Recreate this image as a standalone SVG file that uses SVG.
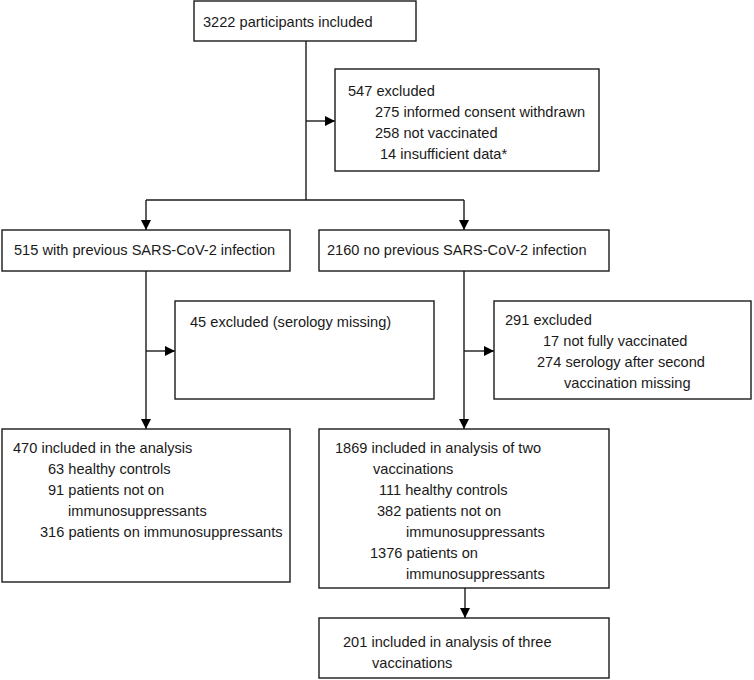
<svg xmlns="http://www.w3.org/2000/svg" width="754" height="680" viewBox="0 0 754 680">
<defs>
<marker id="ah" viewBox="0 0 10 10" refX="10" refY="5" markerWidth="10" markerHeight="10" markerUnits="userSpaceOnUse" orient="auto">
<path d="M0,0 L10,5 L0,10 Z" fill="#000"/>
</marker>
<style>
.box{fill:#fff;stroke:#1a1a1a;stroke-width:1.4}
.ln{fill:none;stroke:#1a1a1a;stroke-width:1.4}
text{font-family:"Liberation Sans","Open Sans",sans-serif;font-size:14.6px;fill:#1a1a1a}
</style>
</defs>
<rect width="754" height="680" fill="#fff"/>
<g id="connectors">
<path class="ln" d="M306,41 V200"/>
<path class="ln" d="M306,121 H335" marker-end="url(#ah)"/>
<path class="ln" d="M146,200 H464"/>
<path class="ln" d="M146,200 V230" marker-end="url(#ah)"/>
<path class="ln" d="M464,200 V230" marker-end="url(#ah)"/>
<path class="ln" d="M146,271 V429" marker-end="url(#ah)"/>
<path class="ln" d="M146,351 H175" marker-end="url(#ah)"/>
<path class="ln" d="M464,271 V429" marker-end="url(#ah)"/>
<path class="ln" d="M464,351 H494" marker-end="url(#ah)"/>
<path class="ln" d="M465,588 V618" marker-end="url(#ah)"/>
</g>
<g id="n1">
<rect class="box" x="194" y="1" width="222" height="40"/>
<text x="203" y="27">3222 participants included</text>
</g>
<g id="n2">
<rect class="box" x="335" y="69" width="264" height="102"/>
<text x="348" y="96">547 excluded</text>
<text x="375" y="117">275 informed consent withdrawn</text>
<text x="375" y="138">258 not vaccinated</text>
<text x="380" y="159">14 insufficient data*</text>
</g>
<g id="n3">
<rect class="box" x="2" y="230" width="288" height="41"/>
<text x="14" y="255">515 with previous SARS-CoV-2 infection</text>
</g>
<g id="n4">
<rect class="box" x="319" y="230" width="290" height="41"/>
<text x="327" y="255">2160 no previous SARS-CoV-2 infection</text>
</g>
<g id="n5">
<rect class="box" x="175" y="301" width="259" height="98"/>
<text x="190" y="327">45 excluded (serology missing)</text>
</g>
<g id="n6">
<rect class="box" x="494" y="301" width="257" height="98"/>
<text x="505" y="325">291 excluded</text>
<text x="543" y="346">17 not fully vaccinated</text>
<text x="537" y="367">274 serology after second</text>
<text x="564" y="388">vaccination missing</text>
</g>
<g id="n7">
<rect class="box" x="2" y="429" width="288" height="153"/>
<text x="13" y="453">470 included in the analysis</text>
<text x="48" y="474">63 healthy controls</text>
<text x="48" y="495">91 patients not on</text>
<text x="68" y="516">immunosuppressants</text>
<text x="40" y="537">316 patients on immunosuppressants</text>
</g>
<g id="n8">
<rect class="box" x="319" y="429" width="290" height="159"/>
<text x="335" y="453">1869 included in analysis of two</text>
<text x="373" y="474">vaccinations</text>
<text x="379" y="495">111 healthy controls</text>
<text x="377" y="516">382 patients not on</text>
<text x="406" y="537">immunosuppressants</text>
<text x="370" y="558">1376 patients on</text>
<text x="406" y="579">immunosuppressants</text>
</g>
<g id="n9">
<rect class="box" x="319" y="618" width="290" height="60"/>
<text x="343" y="647">201 included in analysis of three</text>
<text x="372" y="668">vaccinations</text>
</g>
</svg>
